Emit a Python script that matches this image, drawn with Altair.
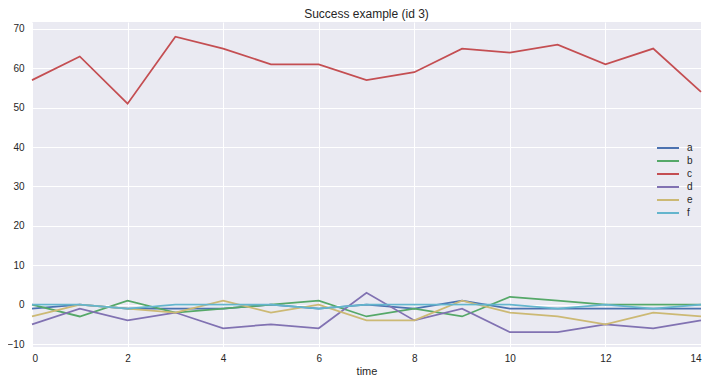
import altair as alt
import pandas as pd

time = list(range(15))
a = [-1, 0, -1, -1, -1, 0, -1, 0, -1, 1, -1, -1, -1, -1, -1]
b = [0, -3, 1, -2, -1, 0, 1, -3, -1, -3, 2, 1, 0, 0, 0]
c = [57, 63, 51, 68, 65, 61, 61, 57, 59, 65, 64, 66, 61, 65, 54]
d = [-5, -1, -4, -2, -6, -5, -6, 3, -4, -1, -7, -7, -5, -6, -4]
e = [-3, 0, -1, -2, 1, -2, 0, -4, -4, 1, -2, -3, -5, -2, -3]
f = [0, 0, -1, 0, 0, 0, -1, 0, 0, 0, 0, -1, 0, -1, 0]

series = {"a": a, "b": b, "c": c, "d": d, "e": e, "f": f}
names = list(series.keys())
colors = ["#4C72B0", "#55A868", "#C44E52", "#8172B2", "#CCB974", "#64B5CD"]

rows = []
for k, vals in series.items():
    for t, v in zip(time, vals):
        rows.append({"time": t, "value": v, "series": k})
df = pd.DataFrame(rows)

FONT = "Liberation Sans"
TXT = "#262626"

chart = alt.Chart(df).mark_line(strokeWidth=1.75).encode(
    x=alt.X("time:Q", title="time",
            scale=alt.Scale(domain=[0, 14], nice=False, zero=False),
            axis=alt.Axis(values=list(range(0, 15, 2)), format="d")),
    y=alt.Y("value:Q", title=None,
            scale=alt.Scale(domain=[-10.75, 71.75], nice=False, zero=False),
            axis=alt.Axis(values=list(range(-10, 71, 10)), format="d")),
    color=alt.Color("series:N", title=None,
                    scale=alt.Scale(domain=names, range=colors),
                    legend=alt.Legend(orient="none", legendX=630, legendY=120,
                                      symbolType="M-2.2,0H2.2", symbolSize=100,
                                      symbolStrokeWidth=2, labelOffset=13,
                                      rowPadding=2, padding=0,
                                      labelFont=FONT, labelFontSize=10,
                                      labelColor=TXT)),
    detail="series:N",
).properties(
    width=669, height=325,
    title=alt.TitleParams("Success example (id 3)", font=FONT, fontSize=12,
                          fontWeight="normal", color=TXT, offset=1),
    autosize=alt.AutoSizeParams(type="none"),
    padding={"left": 24, "top": 14, "right": 4, "bottom": 29},
).configure_view(
    fill="#EAEAF2", stroke=None
).configure_axis(
    grid=True, gridColor="white", gridWidth=1, domain=False, ticks=False,
    labelFont=FONT, labelFontSize=10, labelColor=TXT, labelPadding=6,
    titleFont=FONT, titleFontSize=11, titleFontWeight="normal", titleColor=TXT,
    titlePadding=2,
).configure_axisY(labelPadding=8)

chart.save("out.html", embed_options={"renderer": "svg", "actions": False})
